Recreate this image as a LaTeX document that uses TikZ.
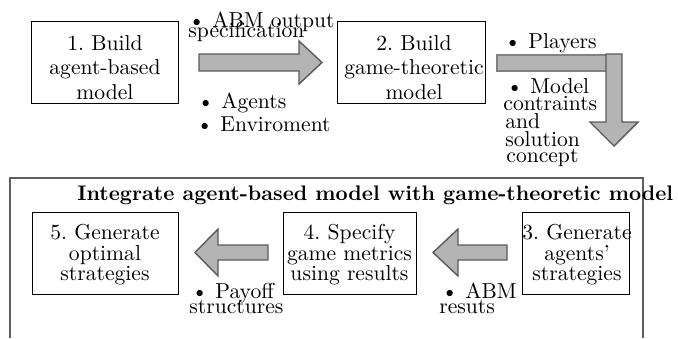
\documentclass[tikz,border=0pt]{standalone}
\definecolor{arrowfill}{RGB}{180,180,180}
\definecolor{arrowline}{RGB}{90,90,90}
\definecolor{barline}{RGB}{130,130,130}
\definecolor{framecol}{RGB}{95,95,95}
\begin{document}
\begin{tikzpicture}[x=0.5pt,y=-0.5pt,
  box/.style={draw=black, line width=0.5pt, inner sep=0pt, rectangle, minimum height=40.75pt},
  toptext/.style={anchor=north, align=center, inner sep=0pt, font=\fontsize{10.8}{12.25}\selectfont},
  lowtext/.style={anchor=north, align=center, inner sep=0pt, font=\fontsize{10.8}{10.25}\selectfont},
  lbl/.style={anchor=base west, inner sep=0pt, font=\fontsize{10.8}{12}\selectfont},
  fatarrow/.style={fill=arrowfill, draw=arrowline, line width=0.7pt, line join=miter},
  frame/.style={draw=framecol, line width=0.8pt},
]
\useasboundingbox (0,0) rectangle (678,338);

% outer frame, open at the bottom
\draw[frame] (10,338) -- (10,178) -- (643,178) -- (643,338);
\node[lbl, font=\fontsize{10.55}{12}\selectfont\bfseries] (title) at (77,200)
  {Integrate agent-based model with game-theoretic model};

% top row boxes
\node[box, minimum width=73.5pt] (b1) at (104.5,62.5) {};
\node[toptext] (t1) at (105,35) {1.~Build\\agent-based\\model};
\node[box, minimum width=74pt] (b2) at (411,62.5) {};
\node[toptext] (t2) at (414,35) {2.~Build\\game-theoretic\\model};

% bottom row boxes
\node[box, minimum width=73pt, minimum height=41pt] (b5) at (105,253) {};
\node[lowtext] (t5) at (105,224) {5.~Generate\\optimal\\strategies};
\node[box, minimum width=66.5pt, minimum height=41pt] (b4) at (349.5,253) {};
\node[lowtext] (t4) at (349.5,224) {4.~Specify\\game metrics\\using results};
\node[box, minimum width=53.5pt, minimum height=41pt] (b3) at (575.5,253) {};
\node[lowtext] (t3) at (577,224) {3.~Generate\\agents'\\strategies};

% block arrows
\draw[fatarrow] (199,54) -- (299,54) -- (299,41) -- (322,62.5) -- (299,84)
  -- (299,71) -- (199,71) -- cycle;
\draw[fill=arrowfill, draw=barline, line width=0.7pt] (497,55) rectangle (607,71);
\draw[fatarrow] (606,54) -- (622,54) -- (622,122) -- (638,122) -- (614,146)
  -- (590,122) -- (606,122) -- cycle;
\draw[fatarrow] (268,245) -- (218,245) -- (218,229) -- (195,252.5) -- (218,276)
  -- (218,260) -- (268,260) -- cycle;
\draw[fatarrow] (507,245) -- (458,245) -- (458,229) -- (433,252.5) -- (458,276)
  -- (458,260) -- (507,260) -- cycle;

% arrow labels
\node[lbl] (l1a) at (188,27) {\textbullet~ABM output};
\node[lbl] (l1b) at (188,37) {specification};
\node[lbl] (l2a) at (197,108) {\textbullet~Agents};
\node[lbl] (l2b) at (196,131) {\textbullet~Enviroment};
\node[lbl] (l3a) at (504,48) {\textbullet~Players};
\node[lbl] (l4a) at (506,93) {\textbullet~Model};
\node[lbl] (l4b) at (503,110) {contraints};
\node[lbl] (l4c) at (505,128) {and};
\node[lbl] (l4d) at (505,146) {solution};
\node[lbl] (l4e) at (506,162) {concept};
\node[lbl] (l5a) at (191,298) {\textbullet~Payoff};
\node[lbl] (l5b) at (189,313) {structures};
\node[lbl] (l6a) at (441,298) {\textbullet~ABM};
\node[lbl] (l6b) at (439,313) {resuts};
\end{tikzpicture}
\end{document}
